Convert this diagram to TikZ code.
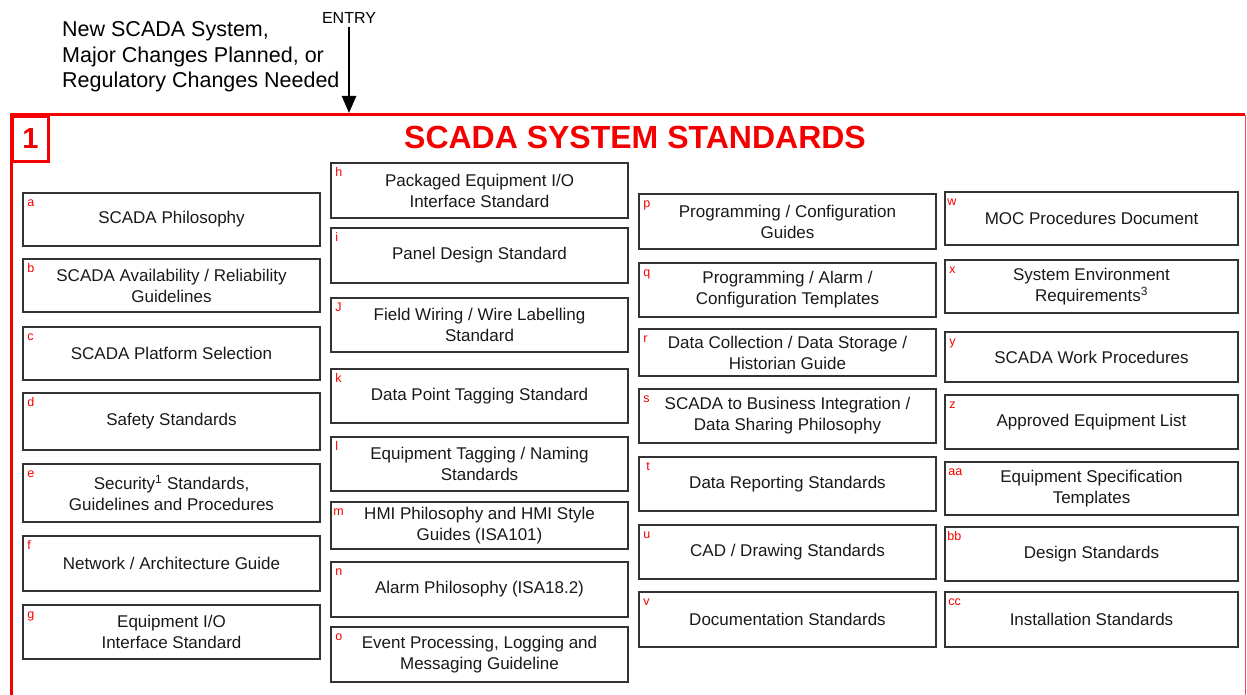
\documentclass[tikz,border=0pt]{standalone}
\usepackage{fontspec}
\setmainfont{Liberation Sans}
\usetikzlibrary{arrows.meta}

\begin{document}
\begin{tikzpicture}[
        x=1pt, y=-1pt,
        stdbox/.style={draw=black!80, line width=1.6pt, inner sep=0pt, align=center,
                       text=black!90, font=\fontsize{17}{21}\selectfont},
        colA/.style={stdbox, minimum width=297pt},
        colD/.style={stdbox, minimum width=293pt},
        tag/.style={anchor=base west, inner sep=0pt, text=scadared, font=\fontsize{12.5}{12.5}\selectfont},
        frame/.style={draw=scadared, line width=3pt},
        entry arrow/.style={line width=2.6pt, -{Triangle[length=17pt, width=14pt]}}
    ]

        \definecolor{scadared}{RGB}{245, 0, 0}

        \useasboundingbox (0,0) rectangle (1247,695);

        % entry text and arrow
        \node[anchor=west, align=left, inner sep=0pt, font=\fontsize{21.5}{25.5}\selectfont] (cause) at (62,57) {
            New SCADA System,\\
            Major Changes Planned, or\\
            Regulatory Changes Needed
        };
        \node[inner sep=0pt, font=\fontsize{16}{16}\selectfont] (entry) at (349,18) {ENTRY};
        \coordinate (frametop) at (349,113);
        \draw[entry arrow] (entry.south) ++(0,3) coordinate (entrystart) -- (frametop);

        % red frame
        \draw[frame] (11,700) |- (1245,115);
        \draw[scadared!70, line width=1pt] (1245,115) -- (1245,700);
        \node[frame, draw, anchor=north west, minimum width=36pt, minimum height=45pt, inner sep=0pt,
              text=scadared, font=\fontsize{29}{29}\selectfont\bfseries] (num) at (11,115) {1};
        \node[text=scadared, font=\fontsize{32}{32}\selectfont\bfseries] (title) at (635,137) {SCADA SYSTEM STANDARDS};

        % column 1
        \node[colA, minimum height=53pt] (a) at (171.5,219.5) {SCADA Philosophy};
        \node[tag] at ([shift={(5,14)}]a.north west) {a};
        \node[colA, minimum height=53pt] (b) at (171.5,285.5) {SCADA Availability / Reliability\\Guidelines};
        \node[tag] at ([shift={(5,14)}]b.north west) {b};
        \node[colA, minimum height=53pt] (c) at (171.5,353.5) {SCADA Platform Selection};
        \node[tag] at ([shift={(5,14)}]c.north west) {c};
        \node[colA, minimum height=57pt] (d) at (171.5,421.5) {Safety Standards};
        \node[tag] at ([shift={(5,14)}]d.north west) {d};
        \node[colA, minimum height=58pt] (e) at (171.5,493) {Security\textsuperscript{1} Standards,\\Guidelines and Procedures};
        \node[tag] at ([shift={(5,14)}]e.north west) {e};
        \node[colA, minimum height=55pt] (f) at (171.5,563.5) {Network / Architecture Guide};
        \node[tag] at ([shift={(5,14)}]f.north west) {f};
        \node[colA, minimum height=54pt] (g) at (171.5,632) {Equipment I/O\\Interface Standard};
        \node[tag] at ([shift={(5,14)}]g.north west) {g};

        % column 2
        \node[colA, minimum height=55pt] (h) at (479.5,190.5) {Packaged Equipment I/O\\Interface Standard};
        \node[tag] at ([shift={(5,14)}]h.north west) {h};
        \node[colA, minimum height=55pt] (i) at (479.5,255.5) {Panel Design Standard};
        \node[tag] at ([shift={(5,14)}]i.north west) {i};
        \node[colA, minimum height=54pt] (j) at (479.5,325) {Field Wiring / Wire Labelling\\Standard};
        \node[tag] at ([shift={(5,14)}]j.north west) {J};
        \node[colA, minimum height=54pt] (k) at (479.5,396) {Data Point Tagging Standard};
        \node[tag] at ([shift={(5,14)}]k.north west) {k};
        \node[colA, minimum height=54pt] (l) at (479.5,464) {Equipment Tagging / Naming\\Standards};
        \node[tag] at ([shift={(5,14)}]l.north west) {l};
        \node[colA, minimum height=47pt] (m) at (479.5,525.5) {HMI Philosophy and HMI Style\\Guides (ISA101)};
        \node[tag] at ([shift={(3,14)}]m.north west) {m};
        \node[colA, minimum height=55pt] (n) at (479.5,589.5) {Alarm Philosophy (ISA18.2)};
        \node[tag] at ([shift={(5,14)}]n.north west) {n};
        \node[colA, minimum height=55pt] (o) at (479.5,654.5) {Event Processing, Logging and\\Messaging Guideline};
        \node[tag] at ([shift={(5,14)}]o.north west) {o};

        % column 3
        \node[colA, minimum height=55pt] (p) at (787.5,221.5) {Programming / Configuration\\Guides};
        \node[tag] at ([shift={(5,14)}]p.north west) {p};
        \node[colA, minimum height=54pt] (q) at (787.5,290) {Programming / Alarm /\\Configuration Templates};
        \node[tag] at ([shift={(5,14)}]q.north west) {q};
        \node[colA, minimum height=47pt] (r) at (787.5,352.5) {Data Collection / Data Storage /\\Historian Guide};
        \node[tag] at ([shift={(5,14)}]r.north west) {r};
        \node[colA, minimum height=54pt] (s) at (787.5,416) {SCADA to Business Integration /\\Data Sharing Philosophy};
        \node[tag] at ([shift={(5,14)}]s.north west) {s};
        \node[colA, minimum height=54pt] (t) at (787.5,484) {Data Reporting Standards};
        \node[tag] at ([shift={(8,14)}]t.north west) {t};
        \node[colA, minimum height=54pt] (u) at (787.5,552) {CAD / Drawing Standards};
        \node[tag] at ([shift={(5,14)}]u.north west) {u};
        \node[colA, minimum height=55pt] (v) at (787.5,619.5) {Documentation Standards};
        \node[tag] at ([shift={(5,14)}]v.north west) {v};

        % column 4
        \node[colD, minimum height=53pt] (w) at (1091.5,218.5) {MOC Procedures Document};
        \node[tag] at ([shift={(3,14)}]w.north west) {w};
        \node[colD, minimum height=53pt] (x) at (1091.5,286.5) {System Environment\\Requirements\textsuperscript{3}};
        \node[tag] at ([shift={(5,14)}]x.north west) {x};
        \node[colD, minimum height=50pt] (y) at (1091.5,357) {SCADA Work Procedures};
        \node[tag] at ([shift={(5,14)}]y.north west) {y};
        \node[colD, minimum height=54pt] (z) at (1091.5,422) {Approved Equipment List};
        \node[tag] at ([shift={(5,14)}]z.north west) {z};
        \node[colD, minimum height=53pt] (aa) at (1091.5,488.5) {Equipment Specification\\Templates};
        \node[tag] at ([shift={(4,14)}]aa.north west) {aa};
        \node[colD, minimum height=54pt] (bb) at (1091.5,554) {Design Standards};
        \node[tag] at ([shift={(3,14)}]bb.north west) {bb};
        \node[colD, minimum height=55pt] (cc) at (1091.5,619.5) {Installation Standards};
        \node[tag] at ([shift={(4,14)}]cc.north west) {cc};
    \end{tikzpicture}
\end{document}
